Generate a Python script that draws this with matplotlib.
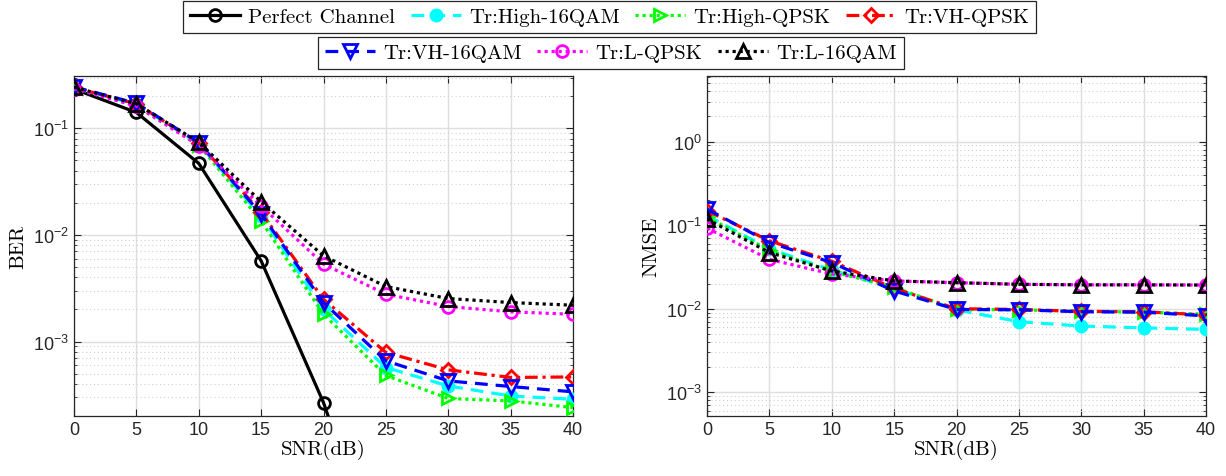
import numpy as np
import matplotlib
matplotlib.use("Agg")
import matplotlib.pyplot as plt
from matplotlib.ticker import LogLocator, NullFormatter, FixedLocator

plt.rcParams['font.family'] = ['Liberation Sans', 'DejaVu Sans']
plt.rcParams['axes.unicode_minus'] = False

snr = [0, 5, 10, 15, 20, 25, 30, 35, 40]

labels = ["Perfect Channel", "Tr:High-16QAM", "Tr:High-QPSK", "Tr:VH-QPSK",
          "Tr:VH-16QAM", "Tr:L-QPSK", "Tr:L-16QAM"]

ber_perfect = [0.234, 0.141, 0.0469, 0.00571, 2.67e-4, 5.3e-6, np.nan, np.nan, np.nan]
ber_high16 = [0.240, 0.168, 0.0715, 0.0150, 0.00200, 5.7e-4, 3.83e-4, 3.08e-4, 2.87e-4]
ber_highqpsk = [0.238, 0.165, 0.0700, 0.0135, 0.00180, 4.8e-4, 2.92e-4, 2.77e-4, 2.40e-4]
ber_vhqpsk = [0.242, 0.170, 0.0725, 0.0163, 0.00249, 7.9e-4, 5.42e-4, 4.60e-4, 4.65e-4]
ber_vh16 = [0.245, 0.172, 0.0735, 0.0157, 0.00232, 6.58e-4, 4.27e-4, 3.78e-4, 3.37e-4]
ber_lqpsk = [0.236, 0.162, 0.0690, 0.0187, 0.00532, 0.00278, 0.00213, 0.00190, 0.00180]
ber_l16 = [0.243, 0.170, 0.0740, 0.0205, 0.00637, 0.00328, 0.00253, 0.00232, 0.00219]

nmse_high16 = [0.130, 0.052, 0.029, 0.0175, 0.0097, 0.0070, 0.0062, 0.0059, 0.00565]
nmse_highqpsk = [0.125, 0.050, 0.028, 0.0180, 0.0098, 0.0097, 0.0093, 0.0091, 0.0086]
nmse_vhqpsk = [0.149, 0.065, 0.037, 0.0175, 0.0100, 0.0098, 0.0093, 0.0092, 0.0084]
nmse_vh16 = [0.156, 0.062, 0.0357, 0.0163, 0.0098, 0.0097, 0.0092, 0.0091, 0.0082]
nmse_lqpsk = [0.092, 0.039, 0.026, 0.0215, 0.0205, 0.0196, 0.0193, 0.0193, 0.0192]
nmse_l16 = [0.118, 0.047, 0.0283, 0.0215, 0.0205, 0.0196, 0.0193, 0.0193, 0.0192]

ber_series = [ber_perfect, ber_high16, ber_highqpsk, ber_vhqpsk, ber_vh16, ber_lqpsk, ber_l16]
nmse_series = [None, nmse_high16, nmse_highqpsk, nmse_vhqpsk, nmse_vh16, nmse_lqpsk, nmse_l16]

styles = [
    dict(color='k', ls='-', marker='o', mfc='none'),
    dict(color=(0, 1, 1), ls=(0, (4, 2.5)), marker='o', mfc=(0, 1, 1)),
    dict(color=(0, 1, 0), ls=(0, (1, 1.2)), marker='>', mfc='none'),
    dict(color=(1, 0, 0), ls=(0, (4, 1.5, 1, 1.5)), marker='D', mfc='none'),
    dict(color=(0, 0, 1), ls=(0, (4, 2.5)), marker='v', mfc='none'),
    dict(color=(1, 0, 1), ls=(0, (1, 1.2)), marker='o', mfc='none'),
    dict(color='k', ls=(0, (1, 1.2)), marker='^', mfc='none'),
]
msizes = [8.5, 8, 9, 7, 9.5, 8.5, 9.5]

fig = plt.figure(figsize=(12.26, 4.77), dpi=100)
ax1 = fig.add_axes([74 / 1226, 0.1258, 499 / 1226, 0.7128])
ax2 = fig.add_axes([707 / 1226, 0.1258, 499 / 1226, 0.7128])

handles = []
for i, st in enumerate(styles):
    h, = ax1.plot(snr, ber_series[i], color=st['color'], ls=st['ls'], marker=st['marker'],
                  mfc=st['mfc'], mec=st['color'], ms=msizes[i], mew=2.0, lw=2.3,
                  label=labels[i], zorder=3)
    handles.append(h)
    if nmse_series[i] is not None:
        ax2.plot(snr, nmse_series[i], color=st['color'], ls=st['ls'], marker=st['marker'],
                 mfc=st['mfc'], mec=st['color'], ms=msizes[i], mew=2.0, lw=2.3, zorder=3)

serif = {'family': 'cmr10', 'size': 15}

for ax in (ax1, ax2):
    ax.set_yscale('log')
    ax.set_xlim(0, 40)
    ax.xaxis.set_major_locator(FixedLocator(snr))
    ax.yaxis.set_major_locator(LogLocator(base=10, numticks=20))
    ax.yaxis.set_minor_locator(LogLocator(base=10, subs=np.arange(2, 10), numticks=20))
    ax.yaxis.set_minor_formatter(NullFormatter())
    ax.grid(True, which='major', color='#dedede', lw=1.0, ls='-', zorder=0)
    ax.grid(True, which='minor', axis='y', color='#d0d0d0', lw=0.8, ls=(0, (1, 2.5)), zorder=0)
    ax.set_axisbelow(True)
    ax.tick_params(which='both', direction='in', top=True, right=True, labelsize=13,
                   colors='#262626', labelcolor='#262626')
    ax.tick_params(which='major', length=5)
    ax.tick_params(which='minor', length=2.5)
    for sp in ax.spines.values():
        sp.set_color('#262626')
        sp.set_linewidth(0.9)
    ax.set_xlabel('SNR(dB)', fontdict=serif, labelpad=1)

ax1.set_ylim(2e-4, 0.31)
ax1.set_ylabel('BER', fontdict=serif, labelpad=4)
ax2.set_ylim(5.2e-4, 6.1)
ax2.set_ylabel('NMSE', fontdict=serif, labelpad=4)

leg_kw = dict(prop={'family': 'cmr10', 'size': 15}, frameon=True, fancybox=False,
              edgecolor='#262626', framealpha=1, handlelength=2.4, handletextpad=0.4,
              columnspacing=0.75, borderpad=0.32, borderaxespad=0)
leg1 = fig.legend(handles[:4], labels[:4], ncol=4, loc='upper left',
                  bbox_to_anchor=(183 / 1226, 1 - 2 / 477), **leg_kw)
leg2 = fig.legend(handles[4:], labels[4:], ncol=3, loc='upper left',
                  bbox_to_anchor=(318 / 1226, 1 - 38 / 477), **leg_kw)
for lg in (leg1, leg2):
    lg.get_frame().set_linewidth(0.9)

fig.savefig('out.png', dpi=100)
